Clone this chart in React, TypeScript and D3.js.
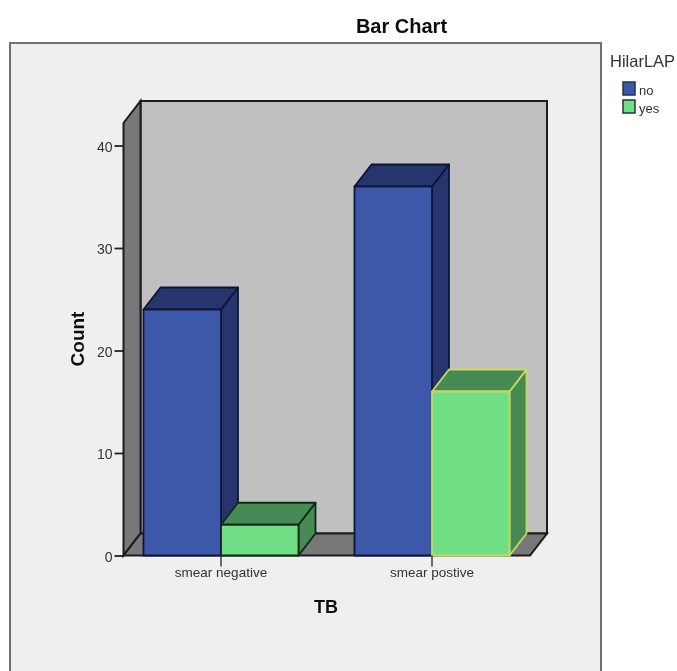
import React, {useEffect, useRef} from "react";
import * as d3 from "d3";

const categories = ["smear negative", "smear postive"];
const series = ["no", "yes"];
const noValues = [24, 36];
const yesValues = [3, 16];
const yTicks = [0, 10, 20, 30, 40];

const width = 677;
const height = 671;
const depth = {x: 17, y: -22};
const font = "'Liberation Sans', Arial, sans-serif";

const colors: Record<string, {face: string; side: string; top: string}> = {
    no: {face: "#3e58a8", side: "#25356d", top: "#25356d"},
    yes: {face: "#70de84", side: "#468a52", top: "#468a52"},
};

const App: React.FC = () => {
    const svgRef = useRef<SVGSVGElement | null>(null);

    useEffect(() => {
        if (!svgRef.current) return;
        const svg = d3.select(svgRef.current);
        svg.selectAll("*").remove();

        svg.append("defs").append("filter")
            .attr("id", "soft")
            .append("feGaussianBlur")
            .attr("stdDeviation", 0.5);

        const root = svg.append("g").attr("filter", "url(#soft)");

        // outer frame, runs off the bottom of the page
        root.append("rect")
            .attr("x", 10).attr("y", 43)
            .attr("width", 591).attr("height", 660)
            .attr("fill", "#efefef")
            .attr("stroke", "#707070")
            .attr("stroke-width", 2);

        const y = d3.scaleLinear().domain([0, 40]).range([555.5, 145.5]);
        const x0 = d3.scaleBand().domain(categories).range([115.5, 537.5]);
        const x1 = d3.scaleBand().domain(series).range([28, 183]);

        const wallLeft = 123.5;
        const floorRight = 530;
        const wallTop = 123;
        const line = d3.line();

        // back wall, left wall and floor
        const walls = root.append("g")
            .attr("stroke", "#1a1a1a")
            .attr("stroke-width", 2);
        walls.append("path")
            .attr("d", line([
                [wallLeft + depth.x, wallTop + depth.y],
                [floorRight + depth.x, wallTop + depth.y],
                [floorRight + depth.x, y(0) + depth.y],
                [wallLeft + depth.x, y(0) + depth.y],
            ]) + "Z")
            .attr("fill", "#c0c0c0");
        walls.append("path")
            .attr("d", line([
                [wallLeft, wallTop],
                [wallLeft + depth.x, wallTop + depth.y],
                [wallLeft + depth.x, y(0) + depth.y],
                [wallLeft, y(0)],
            ]) + "Z")
            .attr("fill", "#787878");
        walls.append("path")
            .attr("d", line([
                [wallLeft, y(0)],
                [wallLeft + depth.x, y(0) + depth.y],
                [floorRight + depth.x, y(0) + depth.y],
                [floorRight, y(0)],
            ]) + "Z")
            .attr("fill", "#787878");

        const bars = [
            ...categories.map((c, i) => ({cat: c, key: "no", value: noValues[i], line: "#0e1638"})),
            ...categories.map((c, i) => ({cat: c, key: "yes", value: yesValues[i], line: i === 0 ? "#0f2a18" : "#c9d865"})),
        ].sort((a, b) => categories.indexOf(a.cat) - categories.indexOf(b.cat));

        bars.forEach(b => {
            const left = x0(b.cat)! + x1(b.key)!;
            const right = left + x1.bandwidth();
            const top = y(b.value);
            const bottom = y(0);
            const g = root.append("g")
                .attr("stroke", b.line)
                .attr("stroke-width", 1.8)
                .attr("stroke-linejoin", "round");
            g.append("path")
                .attr("d", line([
                    [right, top],
                    [right + depth.x, top + depth.y],
                    [right + depth.x, bottom + depth.y],
                    [right, bottom],
                ]) + "Z")
                .attr("fill", colors[b.key].side);
            g.append("path")
                .attr("d", line([
                    [left, top],
                    [left + depth.x, top + depth.y],
                    [right + depth.x, top + depth.y],
                    [right, top],
                ]) + "Z")
                .attr("fill", colors[b.key].top);
            g.append("rect")
                .attr("x", left).attr("y", top)
                .attr("width", right - left).attr("height", bottom - top)
                .attr("fill", colors[b.key].face);
        });

        // y axis
        const yAxis = root.append("g")
            .attr("transform", `translate(${wallLeft},0)`)
            .call(d3.axisLeft(y).tickValues(yTicks).tickSize(9).tickSizeOuter(0).tickPadding(2));
        yAxis.select(".domain").remove();
        yAxis.selectAll("line").attr("stroke", "#222").attr("stroke-width", 1.8);
        yAxis.selectAll("text")
            .attr("font-family", font).attr("font-size", 14)
            .attr("transform", "translate(0,1.5)")
            .attr("fill", "#333");

        // x axis, ticks sit between the two bars of each category
        const xAxis = root.append("g")
            .attr("transform", `translate(0,${y(0)})`)
            .call(d3.axisBottom(x0).tickSize(11).tickSizeOuter(0).tickPadding(1));
        xAxis.select(".domain").remove();
        xAxis.selectAll("line").attr("stroke", "#333").attr("stroke-width", 1.4);
        xAxis.selectAll("text")
            .attr("font-family", font).attr("font-size", 13.5)
            .attr("fill", "#333");

        root.append("text")
            .attr("x", 401.5).attr("y", 33)
            .attr("text-anchor", "middle")
            .attr("font-family", font).attr("font-size", 20).attr("font-weight", "bold")
            .attr("fill", "#111")
            .text("Bar Chart");
        root.append("text")
            .attr("x", 326).attr("y", 613)
            .attr("text-anchor", "middle")
            .attr("font-family", font).attr("font-size", 18).attr("font-weight", "bold")
            .attr("fill", "#111")
            .text("TB");
        root.append("text")
            .attr("transform", "translate(84,339) rotate(-90)")
            .attr("text-anchor", "middle")
            .attr("font-family", font).attr("font-size", 19).attr("font-weight", "bold")
            .attr("fill", "#111")
            .text("Count");

        // legend
        root.append("text")
            .attr("x", 610).attr("y", 67)
            .attr("font-family", font).attr("font-size", 16.5)
            .attr("fill", "#333")
            .text("HilarLAP");
        const legendY = d3.scalePoint().domain(series).range([82, 100]);
        series.forEach(s => {
            root.append("rect")
                .attr("x", 623).attr("y", legendY(s)!)
                .attr("width", 12).attr("height", 13)
                .attr("fill", colors[s].face)
                .attr("stroke", "#27303f")
                .attr("stroke-width", 1.5);
            root.append("text")
                .attr("x", 639).attr("y", legendY(s)! + 13)
                .attr("font-family", font).attr("font-size", 13)
                .attr("fill", "#333")
                .text(s);
        });
    }, []);

    return (
        <svg
            ref={svgRef}
            width={width}
            height={height}
            style={{position: "fixed", left: 0, top: 0, background: "#fff"}}
        />
    );
};

export default App;
